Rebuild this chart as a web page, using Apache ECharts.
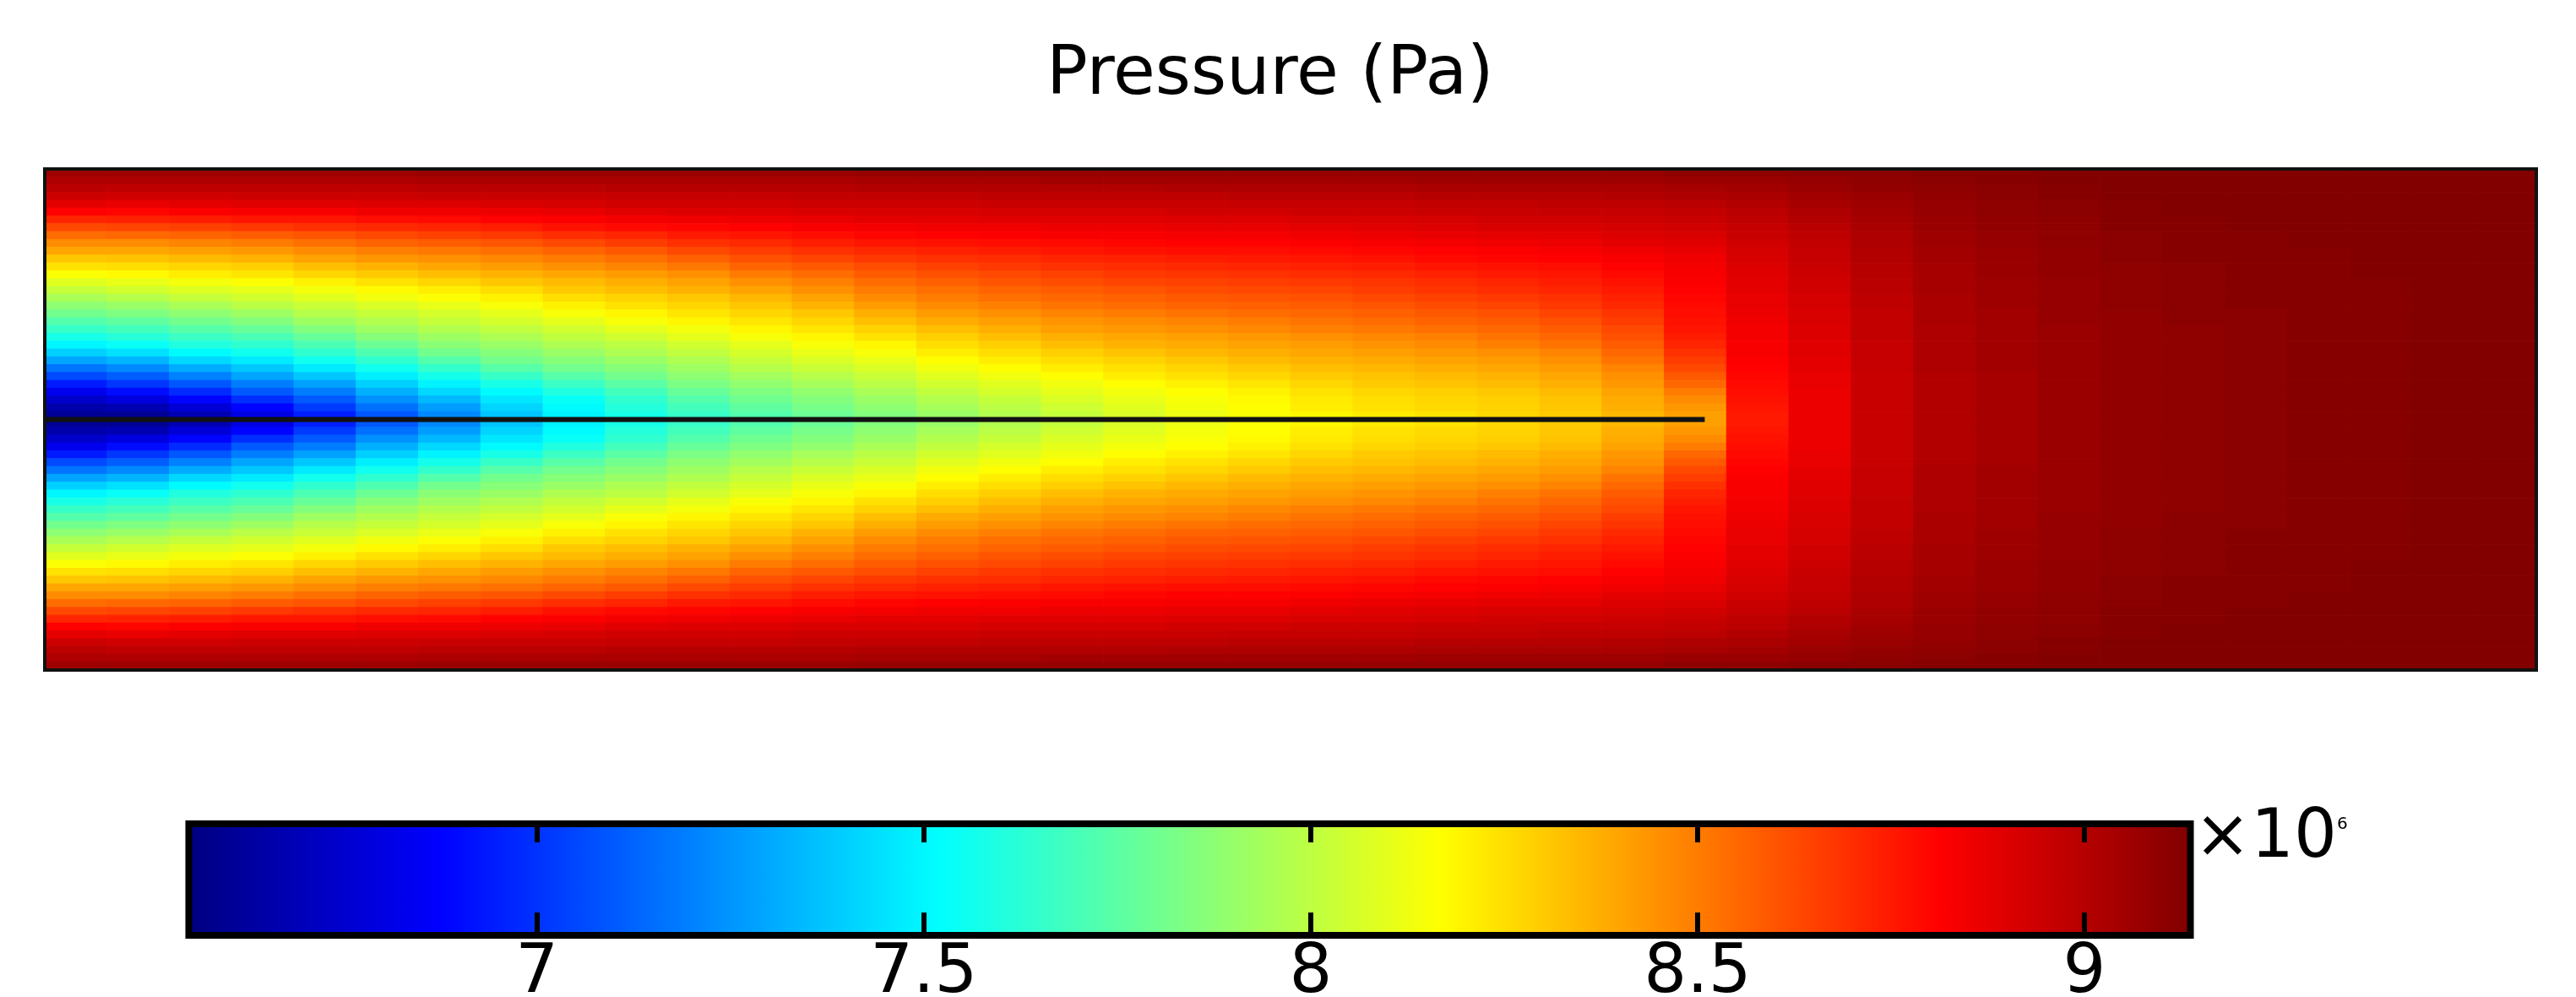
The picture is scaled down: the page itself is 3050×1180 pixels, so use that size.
<!DOCTYPE html>
<html>
<head>
<meta charset="utf-8">
<title>Pressure (Pa)</title>
<script src="https://cdn.jsdelivr.net/npm/echarts@6/dist/echarts.min.js"></script>
<style>
  html, body { margin: 0; padding: 0; background: #fff; }
  #chart { width: 3050px; height: 1180px; }
</style>
</head>
<body>
<div id="chart"></div>
<script>
// pressure field in units of 1e6 Pa
// 64 rows (top to bottom) x 40 columns (left to right)
const pressureRows = [
  [9.06,9.06,9.06,9.06,9.06,9.06,9.07,9.07,9.07,9.07,9.07,9.07,9.07,9.08,9.08,9.08,9.08,9.08,9.08,9.08,9.08,9.08,9.08,9.08,9.08,9.08,9.10,9.10,9.11,9.11,9.12,9.12,9.13,9.13,9.13,9.13,9.13,9.13,9.13,9.13],
  [9.02,9.02,9.02,9.02,9.02,9.02,9.03,9.03,9.03,9.03,9.03,9.03,9.03,9.04,9.04,9.04,9.05,9.05,9.05,9.05,9.05,9.05,9.06,9.06,9.06,9.06,9.07,9.07,9.08,9.10,9.11,9.12,9.13,9.13,9.13,9.13,9.13,9.13,9.13,9.13],
  [8.99,8.98,8.98,8.98,8.98,8.98,8.99,8.99,8.99,9.00,9.00,9.00,9.00,9.01,9.01,9.01,9.01,9.01,9.02,9.02,9.02,9.02,9.03,9.03,9.03,9.03,9.04,9.05,9.07,9.09,9.10,9.11,9.12,9.13,9.13,9.13,9.13,9.13,9.13,9.13],
  [8.94,8.93,8.93,8.94,8.94,8.94,8.95,8.95,8.95,8.96,8.96,8.96,8.97,8.97,8.97,8.98,8.98,8.98,8.98,8.99,8.99,8.99,9.00,9.00,9.00,9.01,9.02,9.03,9.05,9.07,9.09,9.11,9.12,9.13,9.13,9.13,9.13,9.13,9.13,9.13],
  [8.88,8.87,8.88,8.89,8.89,8.90,8.90,8.91,8.92,8.93,8.93,8.93,8.94,8.94,8.94,8.95,8.95,8.95,8.95,8.96,8.96,8.96,8.97,8.97,8.98,8.98,8.99,9.01,9.04,9.06,9.08,9.10,9.11,9.12,9.13,9.13,9.13,9.13,9.13,9.13],
  [8.81,8.80,8.82,8.83,8.83,8.85,8.85,8.86,8.87,8.89,8.90,8.90,8.91,8.91,8.91,8.92,8.92,8.92,8.93,8.93,8.94,8.94,8.95,8.95,8.96,8.96,8.97,8.99,9.02,9.05,9.08,9.10,9.11,9.12,9.13,9.13,9.13,9.13,9.13,9.13],
  [8.72,8.73,8.74,8.76,8.76,8.78,8.79,8.81,8.82,8.84,8.85,8.86,8.87,8.88,8.88,8.89,8.89,8.89,8.90,8.90,8.91,8.91,8.92,8.93,8.93,8.94,8.95,8.98,9.01,9.04,9.07,9.09,9.10,9.12,9.12,9.13,9.13,9.13,9.13,9.13],
  [8.63,8.64,8.65,8.67,8.69,8.71,8.72,8.74,8.77,8.79,8.80,8.81,8.83,8.84,8.85,8.85,8.86,8.86,8.87,8.87,8.88,8.89,8.90,8.91,8.91,8.92,8.93,8.96,8.99,9.03,9.07,9.09,9.10,9.12,9.12,9.13,9.13,9.13,9.13,9.13],
  [8.54,8.55,8.56,8.58,8.60,8.63,8.65,8.67,8.70,8.72,8.75,8.76,8.78,8.80,8.81,8.82,8.83,8.83,8.84,8.84,8.85,8.86,8.87,8.88,8.88,8.90,8.91,8.95,8.98,9.02,9.06,9.08,9.10,9.11,9.12,9.12,9.13,9.13,9.13,9.13],
  [8.46,8.46,8.48,8.50,8.53,8.56,8.58,8.60,8.63,8.66,8.69,8.71,8.74,8.76,8.77,8.78,8.79,8.80,8.81,8.81,8.82,8.83,8.84,8.85,8.86,8.88,8.89,8.93,8.97,9.02,9.06,9.08,9.10,9.11,9.12,9.12,9.13,9.13,9.13,9.13],
  [8.39,8.39,8.41,8.43,8.46,8.49,8.51,8.53,8.56,8.59,8.63,8.66,8.69,8.71,8.73,8.74,8.76,8.77,8.78,8.78,8.79,8.80,8.81,8.82,8.83,8.85,8.87,8.92,8.96,9.01,9.05,9.07,9.09,9.11,9.12,9.12,9.12,9.13,9.13,9.13],
  [8.31,8.32,8.34,8.36,8.40,8.43,8.45,8.47,8.50,8.53,8.57,8.61,8.64,8.67,8.69,8.70,8.72,8.73,8.74,8.75,8.76,8.77,8.79,8.80,8.81,8.83,8.85,8.91,8.96,9.01,9.05,9.07,9.09,9.11,9.12,9.12,9.12,9.13,9.13,9.13],
  [8.24,8.25,8.27,8.29,8.33,8.36,8.39,8.42,8.45,8.48,8.51,8.56,8.59,8.62,8.65,8.67,8.69,8.70,8.71,8.72,8.73,8.74,8.76,8.77,8.78,8.81,8.84,8.90,8.95,9.00,9.04,9.07,9.09,9.10,9.11,9.12,9.12,9.13,9.13,9.13],
  [8.16,8.18,8.21,8.23,8.27,8.30,8.33,8.36,8.39,8.42,8.45,8.50,8.54,8.58,8.61,8.63,8.65,8.67,8.68,8.69,8.70,8.71,8.73,8.75,8.76,8.79,8.83,8.89,8.94,9.00,9.04,9.07,9.09,9.10,9.11,9.12,9.12,9.13,9.13,9.13],
  [8.09,8.11,8.14,8.16,8.20,8.24,8.27,8.31,8.34,8.37,8.40,8.45,8.49,8.54,8.57,8.60,8.62,8.64,8.65,8.66,8.67,8.68,8.70,8.72,8.74,8.77,8.82,8.88,8.93,8.99,9.04,9.06,9.08,9.10,9.11,9.12,9.12,9.12,9.13,9.13],
  [8.02,8.05,8.08,8.10,8.14,8.18,8.21,8.25,8.30,8.33,8.36,8.40,8.45,8.50,8.53,8.56,8.58,8.60,8.62,8.63,8.64,8.66,8.68,8.70,8.72,8.75,8.81,8.88,8.93,8.99,9.04,9.06,9.08,9.10,9.11,9.12,9.12,9.12,9.13,9.13],
  [7.95,7.98,8.02,8.05,8.09,8.13,8.16,8.20,8.25,8.28,8.31,8.35,8.40,8.46,8.50,8.53,8.55,8.57,8.59,8.60,8.61,8.63,8.65,8.67,8.69,8.73,8.80,8.87,8.92,8.98,9.03,9.06,9.08,9.10,9.11,9.12,9.12,9.12,9.13,9.13],
  [7.88,7.91,7.95,7.99,8.03,8.07,8.11,8.15,8.20,8.24,8.27,8.31,8.36,8.42,8.46,8.49,8.52,8.54,8.56,8.57,8.58,8.60,8.62,8.64,8.67,8.71,8.79,8.87,8.92,8.98,9.03,9.06,9.08,9.10,9.11,9.12,9.12,9.12,9.13,9.13],
  [7.81,7.84,7.88,7.92,7.98,8.02,8.06,8.10,8.15,8.19,8.23,8.27,8.31,8.37,8.42,8.45,8.48,8.50,8.52,8.54,8.55,8.57,8.59,8.61,8.64,8.68,8.78,8.86,8.91,8.97,9.03,9.05,9.08,9.09,9.11,9.11,9.12,9.12,9.13,9.13],
  [7.73,7.76,7.81,7.85,7.92,7.97,8.02,8.06,8.10,8.15,8.19,8.23,8.27,8.33,8.38,8.41,8.44,8.46,8.48,8.50,8.52,8.54,8.56,8.58,8.61,8.66,8.77,8.85,8.91,8.97,9.03,9.05,9.08,9.09,9.11,9.11,9.12,9.12,9.13,9.13],
  [7.66,7.69,7.74,7.78,7.85,7.92,7.97,8.01,8.05,8.10,8.14,8.19,8.23,8.28,8.33,8.37,8.41,8.43,8.45,8.47,8.49,8.51,8.53,8.55,8.58,8.63,8.76,8.84,8.90,8.97,9.02,9.05,9.07,9.09,9.10,9.11,9.12,9.12,9.13,9.13],
  [7.58,7.62,7.67,7.71,7.78,7.86,7.92,7.96,8.01,8.05,8.10,8.15,8.19,8.24,8.29,8.33,8.37,8.39,8.41,8.43,8.45,8.47,8.49,8.52,8.55,8.61,8.74,8.84,8.90,8.97,9.02,9.05,9.07,9.09,9.10,9.11,9.12,9.12,9.13,9.13],
  [7.50,7.54,7.60,7.64,7.71,7.79,7.87,7.91,7.96,8.00,8.05,8.10,8.15,8.19,8.25,8.29,8.33,8.36,8.38,8.40,8.42,8.44,8.46,8.49,8.52,8.58,8.72,8.83,8.89,8.96,9.02,9.05,9.07,9.09,9.10,9.11,9.12,9.12,9.13,9.13],
  [7.40,7.44,7.51,7.56,7.64,7.72,7.81,7.86,7.91,7.96,8.01,8.06,8.11,8.15,8.21,8.25,8.29,8.32,8.35,8.37,8.39,8.41,8.43,8.45,8.48,8.55,8.69,8.83,8.89,8.96,9.02,9.05,9.07,9.09,9.10,9.11,9.12,9.12,9.13,9.13],
  [7.29,7.33,7.42,7.47,7.56,7.64,7.73,7.81,7.86,7.91,7.96,8.02,8.07,8.11,8.17,8.21,8.25,8.28,8.31,8.34,8.36,8.38,8.40,8.42,8.45,8.52,8.66,8.82,8.88,8.96,9.02,9.05,9.07,9.09,9.10,9.11,9.12,9.12,9.13,9.13],
  [7.17,7.22,7.31,7.38,7.47,7.56,7.65,7.74,7.81,7.86,7.92,7.98,8.03,8.07,8.13,8.17,8.21,8.24,8.27,8.30,8.33,8.35,8.37,8.39,8.42,8.48,8.63,8.81,8.88,8.96,9.02,9.05,9.07,9.09,9.10,9.11,9.12,9.12,9.13,9.13],
  [7.06,7.11,7.20,7.29,7.38,7.48,7.57,7.66,7.74,7.81,7.88,7.93,7.98,8.03,8.09,8.13,8.17,8.21,8.24,8.27,8.30,8.32,8.34,8.36,8.39,8.45,8.59,8.80,8.87,8.95,9.01,9.04,9.07,9.09,9.10,9.11,9.12,9.12,9.13,9.13],
  [6.94,7.01,7.09,7.19,7.28,7.40,7.49,7.58,7.67,7.75,7.83,7.89,7.94,7.99,8.05,8.09,8.13,8.17,8.20,8.23,8.27,8.30,8.32,8.34,8.37,8.43,8.55,8.79,8.87,8.95,9.01,9.04,9.07,9.09,9.10,9.11,9.12,9.12,9.13,9.13],
  [6.83,6.90,6.98,7.10,7.19,7.32,7.42,7.51,7.60,7.69,7.78,7.84,7.89,7.95,8.01,8.06,8.10,8.14,8.17,8.20,8.24,8.27,8.29,8.31,8.34,8.40,8.50,8.78,8.86,8.95,9.01,9.04,9.07,9.09,9.10,9.11,9.12,9.12,9.13,9.13],
  [6.74,6.79,6.88,6.99,7.10,7.24,7.34,7.46,7.54,7.64,7.73,7.80,7.85,7.91,7.97,8.02,8.07,8.11,8.15,8.18,8.22,8.25,8.27,8.29,8.32,8.38,8.46,8.77,8.86,8.95,9.01,9.04,9.07,9.09,9.10,9.11,9.12,9.12,9.13,9.13],
  [6.66,6.68,6.77,6.88,7.02,7.16,7.27,7.41,7.51,7.61,7.69,7.76,7.82,7.88,7.94,7.99,8.04,8.09,8.14,8.17,8.21,8.24,8.26,8.28,8.31,8.37,8.43,8.76,8.86,8.95,9.01,9.04,9.07,9.09,9.10,9.11,9.12,9.12,9.13,9.13],
  [6.60,6.60,6.68,6.80,6.95,7.09,7.22,7.37,7.49,7.58,7.66,7.73,7.79,7.85,7.91,7.97,8.02,8.07,8.12,8.16,8.19,8.22,8.24,8.27,8.30,8.35,8.41,8.75,8.86,8.95,9.01,9.04,9.07,9.09,9.10,9.11,9.12,9.12,9.13,9.13],
  [6.60,6.60,6.68,6.80,6.95,7.09,7.22,7.37,7.49,7.58,7.66,7.73,7.79,7.85,7.91,7.97,8.02,8.07,8.12,8.16,8.19,8.22,8.24,8.27,8.30,8.35,8.41,8.75,8.86,8.95,9.01,9.04,9.07,9.09,9.10,9.11,9.12,9.12,9.13,9.13],
  [6.66,6.68,6.77,6.88,7.02,7.16,7.27,7.41,7.51,7.61,7.69,7.76,7.82,7.88,7.94,7.99,8.04,8.09,8.14,8.17,8.21,8.24,8.26,8.28,8.31,8.37,8.43,8.76,8.86,8.95,9.01,9.04,9.07,9.09,9.10,9.11,9.12,9.12,9.13,9.13],
  [6.74,6.79,6.88,6.99,7.10,7.24,7.34,7.46,7.54,7.64,7.73,7.80,7.85,7.91,7.97,8.02,8.07,8.11,8.15,8.18,8.22,8.25,8.27,8.29,8.32,8.38,8.46,8.77,8.86,8.95,9.01,9.04,9.07,9.09,9.10,9.11,9.12,9.12,9.13,9.13],
  [6.83,6.90,6.98,7.10,7.19,7.32,7.42,7.51,7.60,7.69,7.78,7.84,7.89,7.95,8.01,8.06,8.10,8.14,8.17,8.20,8.24,8.27,8.29,8.31,8.34,8.40,8.50,8.78,8.86,8.95,9.01,9.04,9.07,9.09,9.10,9.11,9.12,9.12,9.13,9.13],
  [6.94,7.01,7.09,7.19,7.28,7.40,7.49,7.58,7.67,7.75,7.83,7.89,7.94,7.99,8.05,8.09,8.13,8.17,8.20,8.23,8.27,8.30,8.32,8.34,8.37,8.43,8.55,8.79,8.87,8.95,9.01,9.04,9.07,9.09,9.10,9.11,9.12,9.12,9.13,9.13],
  [7.06,7.11,7.20,7.29,7.38,7.48,7.57,7.66,7.74,7.81,7.88,7.93,7.98,8.03,8.09,8.13,8.17,8.21,8.24,8.27,8.30,8.32,8.34,8.36,8.39,8.45,8.59,8.80,8.87,8.95,9.01,9.04,9.07,9.09,9.10,9.11,9.12,9.12,9.13,9.13],
  [7.17,7.22,7.31,7.38,7.47,7.56,7.65,7.74,7.81,7.86,7.92,7.98,8.03,8.07,8.13,8.17,8.21,8.24,8.27,8.30,8.33,8.35,8.37,8.39,8.42,8.48,8.63,8.81,8.88,8.96,9.02,9.05,9.07,9.09,9.10,9.11,9.12,9.12,9.13,9.13],
  [7.29,7.33,7.42,7.47,7.56,7.64,7.73,7.81,7.86,7.91,7.96,8.02,8.07,8.11,8.17,8.21,8.25,8.28,8.31,8.34,8.36,8.38,8.40,8.42,8.45,8.52,8.66,8.82,8.88,8.96,9.02,9.05,9.07,9.09,9.10,9.11,9.12,9.12,9.13,9.13],
  [7.40,7.44,7.51,7.56,7.64,7.72,7.81,7.86,7.91,7.96,8.01,8.06,8.11,8.15,8.21,8.25,8.29,8.32,8.35,8.37,8.39,8.41,8.43,8.45,8.48,8.55,8.69,8.83,8.89,8.96,9.02,9.05,9.07,9.09,9.10,9.11,9.12,9.12,9.13,9.13],
  [7.50,7.54,7.60,7.64,7.71,7.79,7.87,7.91,7.96,8.00,8.05,8.10,8.15,8.19,8.25,8.29,8.33,8.36,8.38,8.40,8.42,8.44,8.46,8.49,8.52,8.58,8.72,8.83,8.89,8.96,9.02,9.05,9.07,9.09,9.10,9.11,9.12,9.12,9.13,9.13],
  [7.58,7.62,7.67,7.71,7.78,7.86,7.92,7.96,8.01,8.05,8.10,8.15,8.19,8.24,8.29,8.33,8.37,8.39,8.41,8.43,8.45,8.47,8.49,8.52,8.55,8.61,8.74,8.84,8.90,8.97,9.02,9.05,9.07,9.09,9.10,9.11,9.12,9.12,9.13,9.13],
  [7.66,7.69,7.74,7.78,7.85,7.92,7.97,8.01,8.05,8.10,8.14,8.19,8.23,8.28,8.33,8.37,8.41,8.43,8.45,8.47,8.49,8.51,8.53,8.55,8.58,8.63,8.76,8.84,8.90,8.97,9.02,9.05,9.07,9.09,9.10,9.11,9.12,9.12,9.13,9.13],
  [7.73,7.76,7.81,7.85,7.92,7.97,8.02,8.06,8.10,8.15,8.19,8.23,8.27,8.33,8.38,8.41,8.44,8.46,8.48,8.50,8.52,8.54,8.56,8.58,8.61,8.66,8.77,8.85,8.91,8.97,9.03,9.05,9.08,9.09,9.11,9.11,9.12,9.12,9.13,9.13],
  [7.81,7.84,7.88,7.92,7.98,8.02,8.06,8.10,8.15,8.19,8.23,8.27,8.31,8.37,8.42,8.45,8.48,8.50,8.52,8.54,8.55,8.57,8.59,8.61,8.64,8.68,8.78,8.86,8.91,8.97,9.03,9.05,9.08,9.09,9.11,9.11,9.12,9.12,9.13,9.13],
  [7.88,7.91,7.95,7.99,8.03,8.07,8.11,8.15,8.20,8.24,8.27,8.31,8.36,8.42,8.46,8.49,8.52,8.54,8.56,8.57,8.58,8.60,8.62,8.64,8.67,8.71,8.79,8.87,8.92,8.98,9.03,9.06,9.08,9.10,9.11,9.12,9.12,9.12,9.13,9.13],
  [7.95,7.98,8.02,8.05,8.09,8.13,8.16,8.20,8.25,8.28,8.31,8.35,8.40,8.46,8.50,8.53,8.55,8.57,8.59,8.60,8.61,8.63,8.65,8.67,8.69,8.73,8.80,8.87,8.92,8.98,9.03,9.06,9.08,9.10,9.11,9.12,9.12,9.12,9.13,9.13],
  [8.02,8.05,8.08,8.10,8.14,8.18,8.21,8.25,8.30,8.33,8.36,8.40,8.45,8.50,8.53,8.56,8.58,8.60,8.62,8.63,8.64,8.66,8.68,8.70,8.72,8.75,8.81,8.88,8.93,8.99,9.04,9.06,9.08,9.10,9.11,9.12,9.12,9.12,9.13,9.13],
  [8.09,8.11,8.14,8.16,8.20,8.24,8.27,8.31,8.34,8.37,8.40,8.45,8.49,8.54,8.57,8.60,8.62,8.64,8.65,8.66,8.67,8.68,8.70,8.72,8.74,8.77,8.82,8.88,8.93,8.99,9.04,9.06,9.08,9.10,9.11,9.12,9.12,9.12,9.13,9.13],
  [8.16,8.18,8.21,8.23,8.27,8.30,8.33,8.36,8.39,8.42,8.45,8.50,8.54,8.58,8.61,8.63,8.65,8.67,8.68,8.69,8.70,8.71,8.73,8.75,8.76,8.79,8.83,8.89,8.94,9.00,9.04,9.07,9.09,9.10,9.11,9.12,9.12,9.13,9.13,9.13],
  [8.24,8.25,8.27,8.29,8.33,8.36,8.39,8.42,8.45,8.48,8.51,8.56,8.59,8.62,8.65,8.67,8.69,8.70,8.71,8.72,8.73,8.74,8.76,8.77,8.78,8.81,8.84,8.90,8.95,9.00,9.04,9.07,9.09,9.10,9.11,9.12,9.12,9.13,9.13,9.13],
  [8.31,8.32,8.34,8.36,8.40,8.43,8.45,8.47,8.50,8.53,8.57,8.61,8.64,8.67,8.69,8.70,8.72,8.73,8.74,8.75,8.76,8.77,8.79,8.80,8.81,8.83,8.85,8.91,8.96,9.01,9.05,9.07,9.09,9.11,9.12,9.12,9.12,9.13,9.13,9.13],
  [8.39,8.39,8.41,8.43,8.46,8.49,8.51,8.53,8.56,8.59,8.63,8.66,8.69,8.71,8.73,8.74,8.76,8.77,8.78,8.78,8.79,8.80,8.81,8.82,8.83,8.85,8.87,8.92,8.96,9.01,9.05,9.07,9.09,9.11,9.12,9.12,9.12,9.13,9.13,9.13],
  [8.46,8.46,8.48,8.50,8.53,8.56,8.58,8.60,8.63,8.66,8.69,8.71,8.74,8.76,8.77,8.78,8.79,8.80,8.81,8.81,8.82,8.83,8.84,8.85,8.86,8.88,8.89,8.93,8.97,9.02,9.06,9.08,9.10,9.11,9.12,9.12,9.13,9.13,9.13,9.13],
  [8.54,8.55,8.56,8.58,8.60,8.63,8.65,8.67,8.70,8.72,8.75,8.76,8.78,8.80,8.81,8.82,8.83,8.83,8.84,8.84,8.85,8.86,8.87,8.88,8.88,8.90,8.91,8.95,8.98,9.02,9.06,9.08,9.10,9.11,9.12,9.12,9.13,9.13,9.13,9.13],
  [8.63,8.64,8.65,8.67,8.69,8.71,8.72,8.74,8.77,8.79,8.80,8.81,8.83,8.84,8.85,8.85,8.86,8.86,8.87,8.87,8.88,8.89,8.90,8.91,8.91,8.92,8.93,8.96,8.99,9.03,9.07,9.09,9.10,9.12,9.12,9.13,9.13,9.13,9.13,9.13],
  [8.72,8.73,8.74,8.76,8.76,8.78,8.79,8.81,8.82,8.84,8.85,8.86,8.87,8.88,8.88,8.89,8.89,8.89,8.90,8.90,8.91,8.91,8.92,8.93,8.93,8.94,8.95,8.98,9.01,9.04,9.07,9.09,9.10,9.12,9.12,9.13,9.13,9.13,9.13,9.13],
  [8.81,8.80,8.82,8.83,8.83,8.85,8.85,8.86,8.87,8.89,8.90,8.90,8.91,8.91,8.91,8.92,8.92,8.92,8.93,8.93,8.94,8.94,8.95,8.95,8.96,8.96,8.97,8.99,9.02,9.05,9.08,9.10,9.11,9.12,9.13,9.13,9.13,9.13,9.13,9.13],
  [8.88,8.87,8.88,8.89,8.89,8.90,8.90,8.91,8.92,8.93,8.93,8.93,8.94,8.94,8.94,8.95,8.95,8.95,8.95,8.96,8.96,8.96,8.97,8.97,8.98,8.98,8.99,9.01,9.04,9.06,9.08,9.10,9.11,9.12,9.13,9.13,9.13,9.13,9.13,9.13],
  [8.94,8.93,8.93,8.94,8.94,8.94,8.95,8.95,8.95,8.96,8.96,8.96,8.97,8.97,8.97,8.98,8.98,8.98,8.98,8.99,8.99,8.99,9.00,9.00,9.00,9.01,9.02,9.03,9.05,9.07,9.09,9.11,9.12,9.13,9.13,9.13,9.13,9.13,9.13,9.13],
  [8.99,8.98,8.98,8.98,8.98,8.98,8.99,8.99,8.99,9.00,9.00,9.00,9.00,9.01,9.01,9.01,9.01,9.01,9.02,9.02,9.02,9.02,9.03,9.03,9.03,9.03,9.04,9.05,9.07,9.09,9.10,9.11,9.12,9.13,9.13,9.13,9.13,9.13,9.13,9.13],
  [9.02,9.02,9.02,9.02,9.02,9.02,9.03,9.03,9.03,9.03,9.03,9.03,9.03,9.04,9.04,9.04,9.05,9.05,9.05,9.05,9.05,9.05,9.06,9.06,9.06,9.06,9.07,9.07,9.08,9.10,9.11,9.12,9.13,9.13,9.13,9.13,9.13,9.13,9.13,9.13],
  [9.06,9.06,9.06,9.06,9.06,9.06,9.07,9.07,9.07,9.07,9.07,9.07,9.07,9.08,9.08,9.08,9.08,9.08,9.08,9.08,9.08,9.08,9.08,9.08,9.08,9.08,9.10,9.10,9.11,9.11,9.12,9.12,9.13,9.13,9.13,9.13,9.13,9.13,9.13,9.13]
];

// colour bar range and ticks (x 1e6 Pa)
const colorRange = [6.55, 9.137];
const colorbarTicks = [7, 7.5, 8, 8.5, 9];

// crack along the centre line, in cell units (x: 0..40, y: 0..64)
const crackLine = [[0, 32], [26.65, 32]];

const jetColors = ['#000080', '#0000ff', '#0080ff', '#00ffff', '#80ff80',
  '#ffff00', '#ff8000', '#ff0000', '#800000'];

const nRows = pressureRows.length;
const nCols = pressureRows[0].length;

const cells = [];
pressureRows.forEach((row, j) => {
  row.forEach((v, i) => cells.push([i, j, v]));
});

const font = 'DejaVu Sans';
const chart = echarts.init(document.getElementById('chart'));

const jetGradient = () => new echarts.graphic.LinearGradient(0, 0, 1, 0,
  jetColors.map((c, i) => ({ offset: i / (jetColors.length - 1), color: c })));

const option = {
  backgroundColor: '#fff',
  animation: false,
  title: {
    text: 'Pressure (Pa)',
    left: 1239,
    top: 49,
    padding: 0,
    textStyle: { fontSize: 81, fontWeight: 'normal', fontFamily: font, color: '#000' }
  },
  grid: [
    {
      left: 53, top: 200, width: 2950, height: 593,
      outerBoundsMode: 'none',
      show: true, z: 10, backgroundColor: 'transparent',
      borderColor: '#111', borderWidth: 4
    },
    {
      left: 223.5, top: 975, width: 2370, height: 132,
      outerBoundsMode: 'none',
      show: true, z: 10, backgroundColor: 'transparent',
      borderColor: '#000', borderWidth: 8
    }
  ],
  xAxis: [
    { gridIndex: 0, type: 'value', min: 0, max: nCols, show: false },
    {
      gridIndex: 1, type: 'value', min: colorRange[0], max: colorRange[1],
      position: 'bottom', z: 10,
      axisLine: { show: false },
      axisTick: {
        show: true, inside: true, length: 27, customValues: colorbarTicks,
        lineStyle: { color: '#000', width: 6 }
      },
      axisLabel: {
        show: true, customValues: colorbarTicks, margin: 6,
        fontSize: 80, fontFamily: font, color: '#000',
        formatter: (v) => String(v)
      },
      splitLine: { show: false }
    },
    {
      gridIndex: 1, type: 'value', min: colorRange[0], max: colorRange[1],
      position: 'top', z: 10,
      axisLine: { show: false },
      axisTick: {
        show: true, inside: true, length: 22, customValues: colorbarTicks,
        lineStyle: { color: '#000', width: 6 }
      },
      axisLabel: { show: false },
      splitLine: { show: false }
    }
  ],
  yAxis: [
    { gridIndex: 0, type: 'value', min: 0, max: nRows, inverse: true, show: false },
    { gridIndex: 1, type: 'value', min: 0, max: 1, show: false }
  ],
  visualMap: {
    type: 'continuous',
    show: false,
    seriesIndex: 0,
    dimension: 2,
    min: colorRange[0],
    max: colorRange[1],
    inRange: { color: jetColors }
  },
  graphic: [
    {
      type: 'text', x: 2598, y: 993, z: 20,
      style: { text: '×10', fontSize: 80, fontFamily: font, fill: '#000', align: 'left', verticalAlign: 'middle' }
    },
    {
      type: 'text', x: 2767, y: 976, z: 20,
      style: { text: '6', fontSize: 20, fontFamily: font, fill: '#000', align: 'left', verticalAlign: 'middle' }
    }
  ],
  series: [
    {
      // pressure field
      type: 'custom',
      xAxisIndex: 0,
      yAxisIndex: 0,
      data: cells,
      encode: { x: 0, y: 1 },
      renderItem: (params, api) => {
        const p = api.coord([api.value(0), api.value(1)]);
        const s = api.size([1, 1]);
        const c = api.visual('color');
        return {
          type: 'rect',
          shape: { x: p[0], y: p[1], width: s[0], height: s[1] },
          style: { fill: c, stroke: c, lineWidth: 1 }
        };
      },
      silent: true
    },
    {
      // crack
      type: 'line',
      xAxisIndex: 0,
      yAxisIndex: 0,
      data: crackLine,
      symbol: 'none',
      z: 5,
      lineStyle: { color: '#111', width: 6, cap: 'butt' },
      silent: true
    },
    {
      // colour bar
      type: 'custom',
      xAxisIndex: 1,
      yAxisIndex: 1,
      data: [colorRange],
      encode: { x: [0, 1] },
      renderItem: (params, api) => {
        const a = api.coord([api.value(0), 0]);
        const b = api.coord([api.value(1), 1]);
        return {
          type: 'rect',
          shape: { x: a[0], y: b[1], width: b[0] - a[0], height: a[1] - b[1] },
          style: { fill: jetGradient() }
        };
      },
      silent: true
    }
  ]
};

chart.setOption(option);
</script>
</body>
</html>
